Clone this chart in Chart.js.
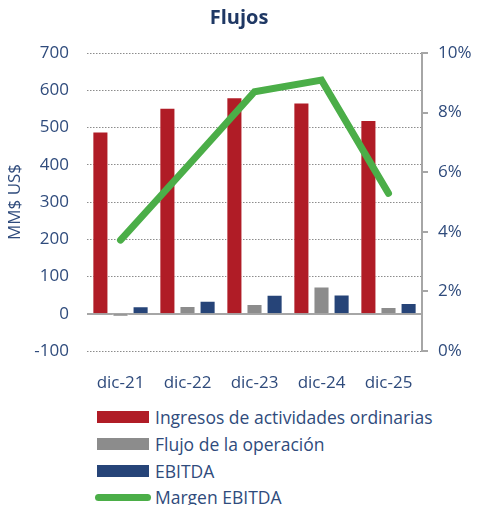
<!DOCTYPE html>
<html>
<head>
<meta charset="utf-8">
<script src="https://cdn.jsdelivr.net/npm/chart.js@4"></script>
<style>
  html, body { margin: 0; padding: 0; background: #fff; overflow: hidden; }
  body { width: 478px; height: 505px; position: relative; font-family: 'Open Sans', sans-serif; }
  #wrap { position: absolute; left: 0; top: 0; width: 478px; height: 395px; }
  #legend { position: absolute; left: 97px; top: 404px; color: #2F4B7C; font-size: 17.5px; }
  .item { height: 26.7px; display: flex; align-items: center; }
  .swatch { width: 52px; height: 12px; margin-right: 6px; }
  .swatch.line { height: 7px; border-radius: 4px; width: 56px; margin-left: -2px; margin-right: 4px; }
</style>
</head>
<body>
<div id="wrap"><canvas id="c"></canvas></div>
<div id="legend"></div>
<script>
// ── data ──
const periods = ['dic-21', 'dic-22', 'dic-23', 'dic-24', 'dic-25'];
const ingresos = [489, 553, 581, 567, 520];
const flujoOperacion = [-8, 21, 26, 73, 18];
const ebitda = [20, 35, 51, 52, 29];
const margenEbitda = [3.72, 6.2, 8.7, 9.09, 5.29];

const TEXT = '#2F4B7C';
const GRID = '#A6A6A6';
const FONT = "'Open Sans', sans-serif";

const series = [
  { label: 'Ingresos de actividades ordinarias', data: ingresos, color: '#B01C26' },
  { label: 'Flujo de la operación', data: flujoOperacion, color: '#8C8C8C' },
  { label: 'EBITDA', data: ebitda, color: '#264478' },
];
const lineColor = '#4BAE48';

// zero line drawn solid over the dotted grid, under the bars
const zeroLine = {
  id: 'zeroLine',
  beforeDatasetsDraw(chart) {
    const { ctx, chartArea, scales } = chart;
    const y = Math.round(scales.y.getPixelForValue(0));
    ctx.save();
    ctx.strokeStyle = GRID;
    ctx.lineWidth = 2;
    ctx.beginPath();
    ctx.moveTo(chartArea.left, y);
    ctx.lineTo(chartArea.right, y);
    ctx.stroke();
    ctx.restore();
  }
};

new Chart(document.getElementById('c'), {
  type: 'bar',
  data: {
    labels: periods,
    datasets: [
      {
        type: 'line',
        label: 'Margen EBITDA',
        data: margenEbitda,
        yAxisID: 'y1',
        borderColor: lineColor,
        backgroundColor: lineColor,
        borderWidth: 7,
        borderCapStyle: 'round',
        borderJoinStyle: 'miter',
        pointRadius: 0,
        tension: 0,
        order: 0,
      },
      ...series.map(s => ({
        label: s.label,
        data: s.data,
        yAxisID: 'y',
        backgroundColor: s.color,
        borderColor: '#fff',
        borderWidth: 1,
        categoryPercentage: 0.9,
        barPercentage: 0.8,
        order: 1,
      })),
    ],
  },
  options: {
    responsive: true,
    maintainAspectRatio: false,
    animation: false,
    layout: { padding: 0 },
    plugins: {
      legend: { display: false },
      tooltip: { enabled: false },
      title: {
        display: true,
        text: 'Flujos',
        color: '#1F3864',
        font: { family: FONT, size: 20, weight: 'bold' },
        padding: { top: 6, bottom: 23 },
      },
    },
    scales: {
      x: {
        grid: { display: false },
        border: { display: false },
        ticks: { color: TEXT, font: { family: FONT, size: 17 }, padding: 14, maxRotation: 0 },
        afterFit(scale) { scale.height = 44; },
      },
      y: {
        position: 'left',
        min: -100,
        max: 700,
        ticks: { stepSize: 100, color: TEXT, font: { family: FONT, size: 17 }, padding: 18 },
        grid: { color: '#8C8C8C', lineWidth: 1, drawTicks: false },
        border: { display: false, dash: [1.5, 1.5] },
        title: { display: true, text: 'MM$ US$', color: TEXT, font: { family: FONT, size: 17 }, padding: { top: 5, bottom: 0 } },
        afterFit(scale) { scale.width = 87; },
      },
      y1: {
        position: 'right',
        min: 0,
        max: 10,
        ticks: {
          stepSize: 2,
          color: TEXT,
          font: { family: FONT, size: 17 },
          padding: 10,
          callback: v => v + '%',
        },
        grid: { drawOnChartArea: false, drawTicks: true, tickLength: 6, color: GRID, lineWidth: 2 },
        border: { display: true, color: GRID, width: 2 },
        afterFit(scale) { scale.width = 56; },
      },
    },
  },
  plugins: [zeroLine],
});

// ── legend ──
const legend = document.getElementById('legend');
legend.innerHTML = series.map(s =>
  `<div class="item"><span class="swatch" style="background:${s.color}"></span>${s.label}</div>`
).join('') +
  `<div class="item"><span class="swatch line" style="background:${lineColor}"></span>Margen EBITDA</div>`;
</script>
</body>
</html>
